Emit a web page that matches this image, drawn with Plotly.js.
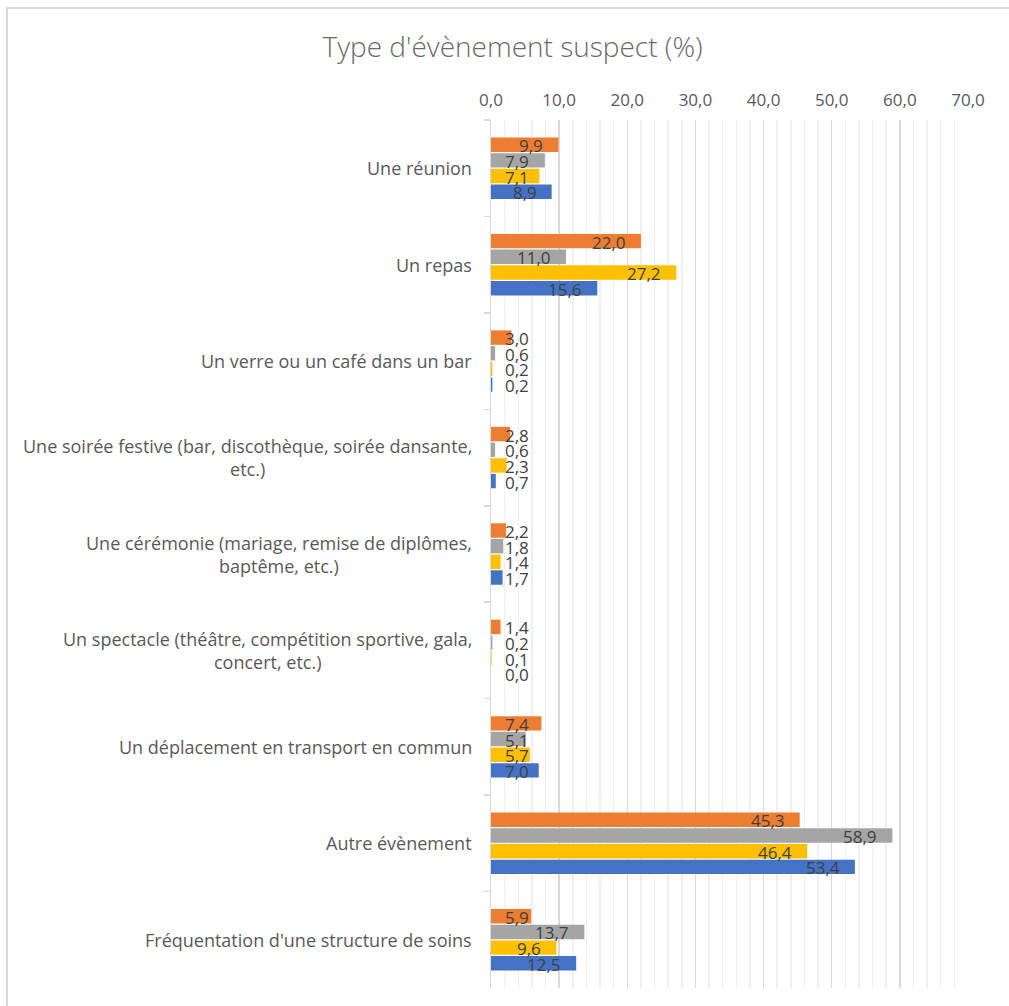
<!DOCTYPE html>
<html>
<head>
<meta charset="utf-8">
<script src="https://cdn.plot.ly/plotly-3.0.1.min.js"></script>
<style>
  html, body { margin: 0; padding: 0; background: #fff; }
  #chart { position: absolute; left: 0; top: 0; width: 1009px; height: 1006px; }
  #frame { position: absolute; left: 6px; top: 7px; width: 1010px; height: 1006px;
           border-left: 2px solid #D9D9D9; border-top: 2px solid #D9D9D9; pointer-events: none; }
</style>
</head>
<body>
<div id="chart"></div>
<div id="frame"></div>
<script>
// ---- data ----
const categories = [
  "Une réunion",
  "Un repas",
  "Un verre ou un café dans un bar",
  "Une soirée festive (bar, discothèque, soirée dansante, etc.)",
  "Une cérémonie (mariage, remise de diplômes, baptême, etc.)",
  "Un spectacle (théâtre, compétition sportive, gala, concert, etc.)",
  "Un déplacement en transport en commun",
  "Autre évènement",
  "Fréquentation d'une structure de soins"
];
const categoryLabels = [
  "Une réunion",
  "Un repas",
  "Un verre ou un café dans un bar",
  "Une soirée festive (bar, discothèque, soirée dansante,<br>etc.)",
  "Une cérémonie (mariage, remise de diplômes,<br>baptême, etc.)",
  "Un spectacle (théâtre, compétition sportive, gala,<br>concert, etc.)",
  "Un déplacement en transport en commun",
  "Autre évènement",
  "Fréquentation d'une structure de soins"
];
const seriesNames = ["Série 1", "Série 2", "Série 3", "Série 4"];
const serie1 = [9.9, 22.0, 3.0, 2.8, 2.2, 1.4, 7.4, 45.3, 5.9];   // orange
const serie2 = [7.9, 11.0, 0.6, 0.6, 1.8, 0.2, 5.1, 58.9, 13.7];  // gray
const serie3 = [7.1, 27.2, 0.2, 2.3, 1.4, 0.1, 5.7, 46.4, 9.6];   // yellow
const serie4 = [8.9, 15.6, 0.2, 0.7, 1.7, 0.0, 7.0, 53.4, 12.5];  // blue
const xTickValues = [0, 10, 20, 30, 40, 50, 60, 70];

// ---- styles ----
const seriesValues = [serie1, serie2, serie3, serie4];
const colors = ["#ED7D31", "#A5A5A5", "#FFC000", "#4472C4"];
const FONT = "Open Sans, Noto Sans, sans-serif";
const fmt = v => v.toFixed(1).replace(".", ",");

const traces = seriesValues.map((vals, i) => ({
  type: "bar",
  orientation: "h",
  name: seriesNames[i],
  x: vals,
  y: categories,
  marker: { color: colors[i] },
  hoverinfo: "x+name"
}));

// layout geometry (pixels)
const ML = 491, MR = 41, MT = 120, MB = 18, H = 1006;
const catPx = (H - MT - MB) / categories.length;
const bargap = 0.35;
const slot = catPx * (1 - bargap) / 4;

const annotations = [];
// category labels (centered lines, right-aligned block)
categoryLabels.forEach((lab, k) => {
  annotations.push({
    xref: "paper", yref: "y", x: 0, y: categories[k],
    xanchor: "right", yanchor: "middle", xshift: -17,
    text: lab, showarrow: false, align: "center",
    font: { family: FONT, size: 18, color: "#595959" }
  });
});
// data labels (inside end)
seriesValues.forEach((vals, i) => {
  vals.forEach((v, k) => {
    const small = v < 8;
    annotations.push({
      xref: "x", yref: "y",
      x: small ? 0 : v, y: categories[k],
      xanchor: small ? "left" : "right", yanchor: "middle",
      xshift: small ? 12 : -13,
      yshift: -(i - 1.5) * slot - 1,
      text: fmt(v), showarrow: false,
      font: { family: FONT, size: 17, color: "#404040" }
    });
  });
});

const layout = {
  width: 1009, height: 1006,
  margin: { l: ML, r: MR, t: MT, b: MB },
  paper_bgcolor: "#fff", plot_bgcolor: "#fff",
  title: {
    text: "Type d'évènement suspect (%)",
    x: 0.508, xanchor: "center", y: 0.953, yanchor: "middle",
    font: { family: FONT, size: 28, color: "#6a6a6a", weight: 300 }
  },
  showlegend: false,
  barmode: "group",
  bargap: bargap,
  bargroupgap: 0.08,
  separators: ",.",
  xaxis: {
    side: "top",
    range: [0, 70],
    tickvals: xTickValues,
    tickformat: ".1f",
    showgrid: true, gridcolor: "#D9D9D9", gridwidth: 1.5,
    minor: { dtick: 2, showgrid: true, gridcolor: "#F0F0F0", gridwidth: 1.5 },
    zeroline: false, showline: false, ticks: "",
    ticklabelstandoff: 10,
    tickfont: { family: FONT, size: 17, color: "#595959" },
    fixedrange: true
  },
  yaxis: {
    type: "category",
    autorange: "reversed",
    showticklabels: false,
    showgrid: false, zeroline: false,
    showline: true, linecolor: "#D9D9D9", linewidth: 1.5,
    ticks: "outside", tickson: "boundaries", ticklen: 6, tickcolor: "#D9D9D9", tickwidth: 1.5,
    fixedrange: true
  },
  annotations: annotations
};

Plotly.newPlot("chart", traces, layout, { displayModeBar: false, staticPlot: true });
</script>
</body>
</html>
